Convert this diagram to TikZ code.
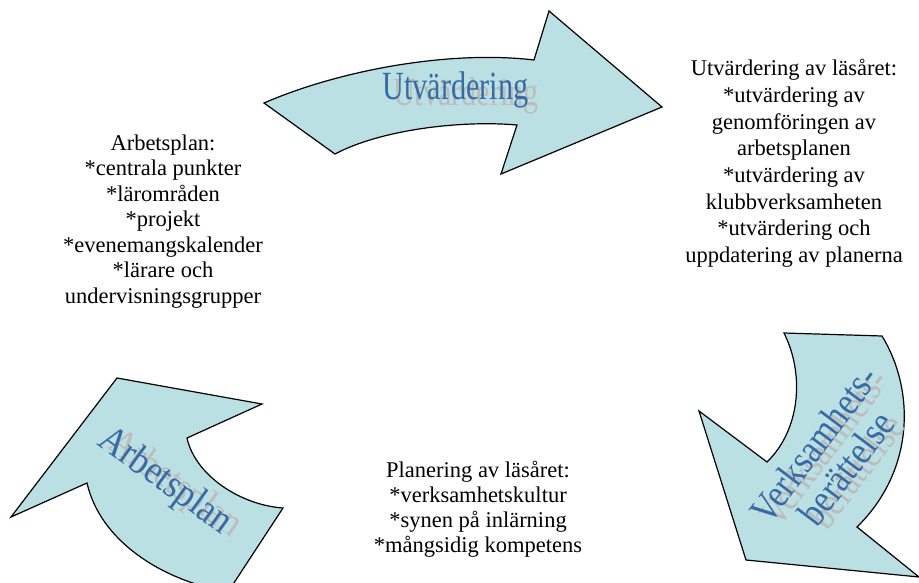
\documentclass[tikz,border=0pt]{standalone}
\usepackage{fontspec}
\setmainfont{Liberation Serif}
\usepackage{graphicx}
\definecolor{arrowfill}{RGB}{187,224,227}
\definecolor{wordblue}{RGB}{56,106,164}
\definecolor{wordgrey}{RGB}{188,188,188}
\begin{document}
\begin{tikzpicture}[x=1pt,y=-1pt,
  bigarrow/.style={fill=arrowfill,draw=black,line width=1.2pt,line join=miter},
  bodytext/.style={align=center,font=\rmfamily\fontsize{22.5}{25.5}\selectfont,inner sep=0pt},
  wordart/.style={text=wordblue,inner sep=0pt,align=center,font=\rmfamily\fontsize{40}{40}\selectfont},
  wordshadow/.style={text=wordgrey,inner sep=0pt,align=center,font=\rmfamily\fontsize{40}{40}\selectfont}]
\useasboundingbox (0,0) rectangle (919,583);
\clip (0,0) rectangle (919,583);
% top arrow
\path[bigarrow] (264,103) .. controls (340,70) and (450,50) .. (534,60) -- (549,11) -- (662,107) -- (501,174) -- (517,125) .. controls (460,120) and (380,130) .. (335,154) -- cycle;
% right arrow
\path[bigarrow] (784,333) -- (882,336) .. controls (915,390) and (915,470) .. (857,527) -- (919,577) -- (746,560) -- (699,411) -- (767,462) .. controls (800,430) and (805,375) .. (784,333) -- cycle;
% left arrow
\path[bigarrow] (117,378) -- (262,404) -- (187,438) .. controls (195,475) and (240,505) .. (283,508) -- (228,592) .. controls (160,580) and (100,540) .. (87,483) -- (11,517) -- cycle;
% word art labels
\node[wordshadow,anchor=base] (utvs) at (466,106) {\scalebox{0.755}[1]{Utvärdering}};
\node[wordart,anchor=base] (utv) at (455.5,100) {\scalebox{0.755}[1]{Utvärdering}};
\node[wordshadow,rotate=53] (verks) at (840,459) {\scalebox{0.85}[1]{Verksamhets-}\\\scalebox{0.85}[1]{berättelse}};
\node[wordart,rotate=53] (verk) at (830,456) {\scalebox{0.85}[1]{Verksamhets-}\\\scalebox{0.85}[1]{berättelse}};
\node[wordshadow,rotate=-36] (arbs) at (175,485) {\scalebox{0.88}[1]{Arbetsplan}};
\node[wordart,rotate=-36] (arb) at (165,482) {\scalebox{0.88}[1]{Arbetsplan}};
% plain texts
\node[bodytext] (plan) at (163,221.5) {Arbetsplan:\\*centrala punkter\\*lärområden\\*projekt\\*evenemangskalender\\*lärare och\\undervisningsgrupper};
\node[bodytext,font=\rmfamily\fontsize{22.5}{26.7}\selectfont] (eval) at (794,163.5) {Utvärdering av läsåret:\\*utvärdering av\\genomföringen av\\arbetsplanen\\*utvärdering av\\klubbverksamheten\\*utvärdering och\\uppdatering av planerna};
\node[bodytext,font=\rmfamily\fontsize{22.5}{25}\selectfont] (plane) at (478,509.5) {Planering av läsåret:\\*verksamhetskultur\\*synen på inlärning\\*mångsidig kompetens};
\end{tikzpicture}
\end{document}
